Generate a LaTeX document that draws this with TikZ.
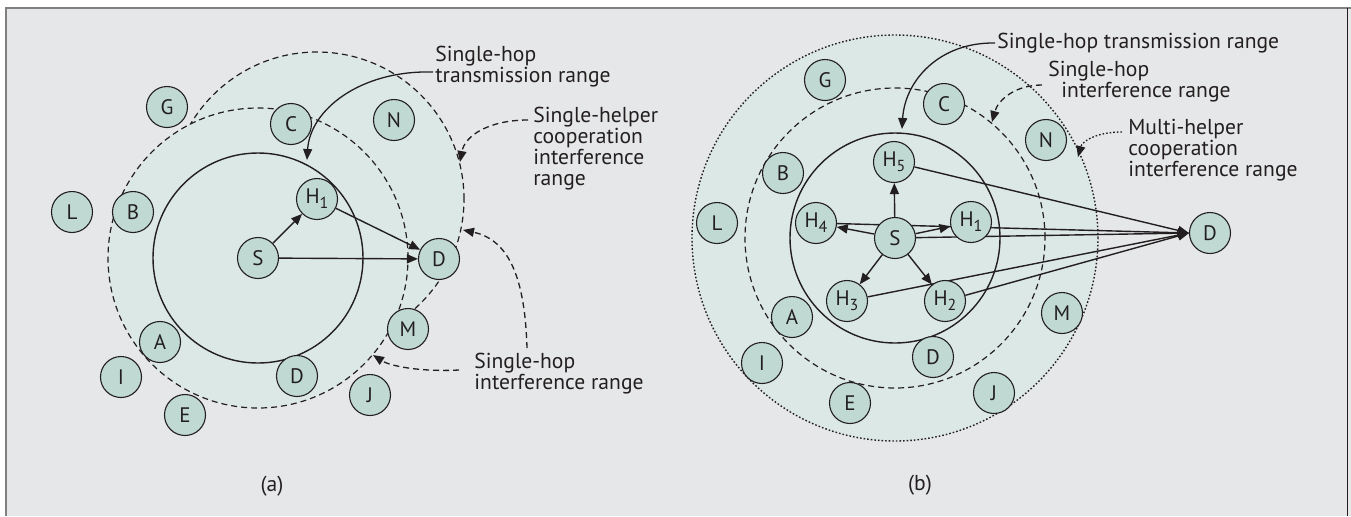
\documentclass[tikz,border=0pt]{standalone}
\usepackage{fontspec}
\setmainfont{PT Sans}
\usetikzlibrary{arrows.meta,backgrounds}
\definecolor{panelgray}{HTML}{E6E7E8}
\definecolor{rangefill}{HTML}{DCE8E5}
\definecolor{nodefill}{HTML}{C0D9D2}
\definecolor{ink}{HTML}{231F20}
\definecolor{framegray}{HTML}{808080}
\newcommand{\hsub}[1]{H\raisebox{-0.45ex}{\fontsize{8}{8}\selectfont #1}}

\begin{document}
\begin{tikzpicture}[x=0.5pt, y=-0.5pt,
    station/.style={circle, draw=ink, fill=nodefill, line width=0.55pt,
        minimum size=20.5pt, inner sep=0pt, text=ink, font=\fontsize{10.5}{11}\selectfont},
    rangetext/.style={anchor=west, align=left, inner sep=0pt, text=ink,
        font=\fontsize{10.8}{10.5}\selectfont},
    hoparrow/.style={draw=ink, line width=0.7pt, -{Triangle[length=5.5pt,width=4.5pt]}},
    tagarrow/.style={draw=ink, line width=0.65pt, -{Triangle[length=5.5pt,width=4.5pt]}},
    hopcircle/.style={draw=ink, line width=0.7pt},
    dashcircle/.style={draw=ink, line width=0.6pt, dash pattern=on 3pt off 2pt},
    dotcircle/.style={draw=ink, line width=0.7pt, dash pattern=on 0.8pt off 1pt},
]
    \useasboundingbox (0,0) rectangle (1351,516);

    % (a) single helper
    \node[station] (aS)  at (258,258) {S};
    \node[station] (aH1) at (317,199) {\hsub{1}};
    \node[station] (aDst) at (439,259) {D};
    \node[station] (aG) at (167,107) {G};
    \node[station] (aC) at (291,124) {C};
    \node[station] (aN) at (394,120) {N};
    \node[station] (aL) at (72,212) {L};
    \node[station] (aB) at (133,212) {B};
    \node[station] (aA) at (160,342) {A};
    \node[station] (aI) at (121,377) {I};
    \node[station] (aE) at (185,415) {E};
    \node[station] (aDlow) at (297,376) {D};
    \node[station] (aM) at (408,329) {M};
    \node[station] (aJ) at (370,395) {J};

    \node[rangetext] (aTx) at (435,67) {Single-hop\\transmission range};
    \node[rangetext] (aCoop) at (533,149) {Single-helper\\cooperation\\interference\\range};
    \node[rangetext] (aIf) at (474,374) {Single-hop\\interference range};
    \node[rangetext, anchor=center] (aCap) at (272,486) {(a)};

    % (b) multiple helpers
    \node[station] (bS)  at (895,238) {S};
    \node[station] (bH1) at (971,222) {\hsub{1}};
    \node[station] (bH2) at (945,301) {\hsub{2}};
    \node[station] (bH3) at (847,301) {\hsub{3}};
    \node[station] (bH4) at (816,223) {\hsub{4}};
    \node[station] (bH5) at (894,162) {\hsub{5}};
    \node[station] (bDst) at (1210,233) {D};
    \node[station] (bG) at (825,80) {G};
    \node[station] (bC) at (944,104) {C};
    \node[station] (bN) at (1046,140) {N};
    \node[station] (bB) at (783,173) {B};
    \node[station] (bL) at (717,223) {L};
    \node[station] (bA) at (792,317) {A};
    \node[station] (bI) at (762,363) {I};
    \node[station] (bE) at (850,403) {E};
    \node[station] (bDlow) at (933,357) {D};
    \node[station] (bJ) at (994,393) {J};
    \node[station] (bM) at (1062,313) {M};

    \node[rangetext] (bTx) at (997,43) {Single-hop transmission range};
    \node[rangetext] (bIf) at (1048,82) {Single-hop\\\hspace*{6.5pt}interference range};
    \node[rangetext] (bCoop) at (1128,150) {Multi-helper\\cooperation\\interference range};
    \node[rangetext, anchor=center] (bCap) at (920,485) {(b)};

    % free ends of the pointers
    \coordinate (aTxEnd) at (307,160);
    \coordinate (aCoopStart) at (528,120);
    \coordinate (aCoopEnd) at (460,162);
    \coordinate (aIfStart) at (527,348);
    \coordinate (aIfEnd) at (463,230);
    \coordinate (aIfStart2) at (459,370);
    \coordinate (aIfEnd2) at (373,355);
    \coordinate (bTxEnd) at (902,129);
    \coordinate (bIfStart) at (1042,85);
    \coordinate (bIfEnd) at (992,122);
    \coordinate (bCoopStart) at (1122,132);
    \coordinate (bCoopEnd) at (1078,157);

    \begin{pgfonlayer}{background}
        \fill[panelgray] (6,8) rectangle (1351,516);
        \draw[framegray, line width=1pt] (6,516) -- (6,7.5) -- (1351,7.5);
        \draw[ink, line width=0.5pt] (1347.5,8) -- (1347.5,516);

        % ranges (a)
        \fill[rangefill] (aS) circle (75pt) (aH1) circle (73.5pt);
        \begin{scope}[even odd rule]
            \clip (0,0) rectangle (680,516) (aS) circle (75pt);
            \draw[dashcircle] (aH1) circle (73.5pt);
        \end{scope}
        \draw[dashcircle] (aS) circle (75pt);
        \draw[hopcircle] (aS) circle (52.5pt);

        % ranges (b)
        \fill[rangefill] (bS) circle (101.5pt);
        \draw[dotcircle] (bS) circle (101.5pt);
        \draw[dashcircle] (bS) circle (75pt);
        \draw[hopcircle] (bS) circle (52.5pt);

        % links (a)
        \draw[hoparrow] (aS) -- (aH1);
        \draw[hoparrow] (aH1) -- (aDst);
        \draw[hoparrow] (aS) -- (aDst);

        % links (b)
        \foreach \h in {1,...,5}
            \draw[hoparrow] (bS) -- (bH\h);
        \draw[hoparrow] (bH4) -- (bDst.west);
        \draw[hoparrow] (bS) -- (bDst.west);
        \draw[hoparrow] (bH5) -- (bDst.west);
        \draw[hoparrow] (bH3) -- (bDst.west);
        \draw[hoparrow] (bH2) -- (bDst.west);

        % pointers
        \draw[tagarrow] ([shift={(-1pt,-2.5pt)}]aTx.west) .. controls (360,70) and (310,110) .. (aTxEnd);
        \draw[tagarrow, dash pattern=on 3pt off 2pt] (aCoopStart) .. controls (490,120) and (465,135) .. (aCoopEnd);
        \draw[tagarrow, dash pattern=on 3pt off 2pt] (aIfStart) .. controls (525,280) and (510,240) .. (aIfEnd);
        \draw[tagarrow, dash pattern=on 3pt off 2pt] (aIfStart2) .. controls (420,372) and (390,366) .. (aIfEnd2);
        \draw[tagarrow] ([xshift=-1pt]bTx.west) .. controls (940,42) and (905,80) .. (bTxEnd);
        \draw[tagarrow, dash pattern=on 3pt off 2pt] (bIfStart) .. controls (1015,85) and (998,100) .. (bIfEnd);
        \draw[tagarrow, dash pattern=on 0.8pt off 1pt] (bCoopStart) .. controls (1095,132) and (1082,142) .. (bCoopEnd);
    \end{pgfonlayer}
\end{tikzpicture}
\end{document}
